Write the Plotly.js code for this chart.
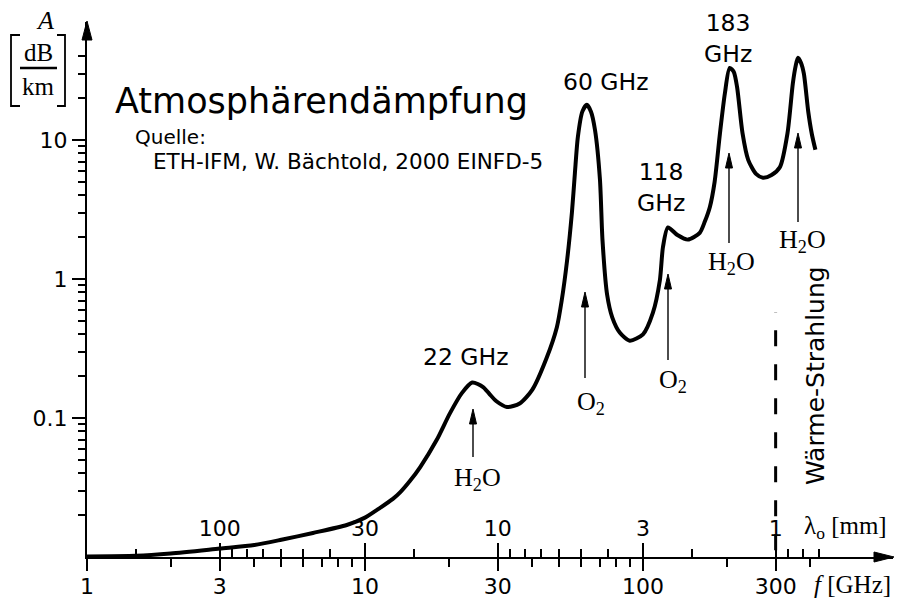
<!DOCTYPE html>
<html>
<head>
<meta charset="utf-8">
<script src="https://cdn.plot.ly/plotly-3.0.1.min.js"></script>
<style>
html,body{margin:0;padding:0;background:#fff;}
#chart{width:901px;height:599px;}
</style>
</head>
<body>
<div id="chart"></div>
<script>
// ---- data ----
const freqGHz = [1, 1.5, 2, 3, 4, 5, 6.5, 8.6, 10, 11.3, 12.6, 13.4, 14.5, 15.8, 18.1, 20.2, 22.3, 24.3, 26.6, 28.1, 29.7, 32.4, 36, 40, 45, 49, 51, 53.3, 55.5, 56.9, 58.3, 60.5, 62.8, 65, 67.2, 70, 71.5, 74.3, 77.5, 82.6, 89.6, 100, 108.5, 115, 118, 123, 133, 145, 160, 167, 174, 181, 189, 197, 205, 212, 218, 228, 239, 255, 270, 290, 311, 331, 346, 354, 361, 370, 379, 393, 405, 417];
const attenDBkm = [0.0101, 0.0102, 0.0106, 0.0115, 0.0122, 0.0133, 0.0149, 0.0170, 0.0192, 0.0225, 0.0262, 0.0293, 0.0352, 0.0444, 0.0694, 0.108, 0.151, 0.180, 0.167, 0.148, 0.132, 0.120, 0.127, 0.16, 0.27, 0.45, 0.70, 1.35, 3.0, 5.8, 10.5, 16, 17.9, 16, 11.8, 5.2, 1.9, 0.77, 0.53, 0.41, 0.36, 0.40, 0.57, 0.98, 1.7, 2.35, 2.07, 1.92, 2.15, 2.6, 3.3, 5.0, 11, 21.6, 33, 31, 24, 11.2, 7.2, 5.7, 5.35, 5.6, 6.4, 11.2, 25.6, 34, 39, 36, 30, 16, 11, 8.5];

const freqMajorTicks  = [1, 3, 10, 30, 100, 300];
const freqMajorLabels = ['1', '3', '10', '30', '100', '300'];
const freqMinorTicks  = [2, 4, 5, 6, 7, 8, 9, 20, 40, 50, 60, 70, 80, 90, 200, 400];

const lambdaMajorMM = [100, 30, 10, 3, 1];
const lambdaMinorMM = [200, 90, 80, 70, 60, 50, 40, 20, 9, 8, 7, 6, 5, 4, 2, 0.9, 0.8, 0.7];

const attMajorTicks  = [0.01, 0.1, 1, 10];
const attMajorLabels = ['0.01', '0.1', '1', '10'];
const attMinorTicks  = [];
[0.01, 0.1, 1].forEach(d => { for (let k = 2; k <= 9; k++) attMinorTicks.push(+(d * k).toPrecision(3)); });
attMinorTicks.push(20, 30, 40);

const heatBoundaryGHz = [300, 300];
const heatBoundaryDB  = [0.0112, 0.58];

const peakLabels = ['22 GHz', '60 GHz', '118<br>GHz', '183<br>GHz'];
const gasLabels  = ['H<sub>2</sub>O', 'O<sub>2</sub>', 'O<sub>2</sub>', 'H<sub>2</sub>O', 'H<sub>2</sub>O'];

// ---- helpers (pixel -> paper for decorations) ----
const L = 87, R = 8, T = 22, B = 42, W = 901, H = 599;
const PW = W - L - R, PH = H - T - B;
const px = x => (x - L) / PW;
const py = y => (H - B - y) / PH;

const lambdaToF = l => 300 / l;

const sans = 'DejaVu Sans, sans-serif';
const serif = 'Liberation Serif, DejaVu Serif, serif';

const traces = [
  {
    x: freqGHz, y: attenDBkm, type: 'scatter', mode: 'lines',
    line: {color: '#000', width: 4, shape: 'spline', smoothing: 0.7},
    hoverinfo: 'x+y', showlegend: false
  },
  {
    x: heatBoundaryGHz, y: heatBoundaryDB, type: 'scatter', mode: 'lines',
    xaxis: 'x2',
    line: {color: '#000', width: 3, dash: '16px,18px'},
    hoverinfo: 'skip', showlegend: false
  }
];

const annotations = [];
function txt(text, x, y, size, opts) {
  annotations.push(Object.assign({
    text: text, xref: 'paper', yref: 'paper', x: px(x), y: py(y),
    showarrow: false, xanchor: 'center', yanchor: 'middle',
    font: {family: sans, size: size, color: '#000'}
  }, opts || {}));
}
// title & source
txt('Atmosphärendämpfung', 113, 101, 35, {xanchor: 'left'});
txt('Quelle:', 133, 137, 20, {xanchor: 'left'});
txt('ETH-IFM, W. Bächtold, 2000 EINFD-5', 151, 161, 21.5, {xanchor: 'left'});
// peak labels
const peakPos = [[466, 357], [606, 82], [661, 188], [728, 38]];
peakLabels.forEach((t, i) => txt(t, peakPos[i][0], peakPos[i][1], 23.5));
// gas labels
const gasPos = [[477, 479], [591, 403], [673, 381], [731, 263], [802, 241]];
gasLabels.forEach((t, i) => txt(t, gasPos[i][0], gasPos[i][1], 26, {font: {family: serif, size: 26, color: '#000'}}));
// heat radiation label
txt('Wärme-Strahlung', 816, 376, 25, {textangle: -90});
// axis names
txt('<i>A</i>', 45, 21, 26, {font: {family: serif, size: 26, color: '#000'}});
txt('dB', 38, 52, 25, {font: {family: serif, size: 25, color: '#000'}});
txt('km', 38, 86, 25, {font: {family: serif, size: 25, color: '#000'}});
txt('λ<sub>o</sub> [mm]', 802, 527, 25, {xanchor: 'left', font: {family: serif, size: 25, color: '#000'}});
txt('<i>f</i> [GHz]', 812, 584, 25, {xanchor: 'left', font: {family: serif, size: 25, color: '#000'}});

// shapes: brackets, fraction bar, arrows
const shapes = [
  {type: 'path', xref: 'paper', yref: 'paper',
   path: `M ${px(20)} ${py(35)} L ${px(11)} ${py(35)} L ${px(11)} ${py(106)} L ${px(20)} ${py(106)}`,
   line: {color: '#000', width: 1.8}},
  {type: 'path', xref: 'paper', yref: 'paper',
   path: `M ${px(57)} ${py(35)} L ${px(65)} ${py(35)} L ${px(65)} ${py(106)} L ${px(57)} ${py(106)}`,
   line: {color: '#000', width: 1.8}},
  {type: 'line', xref: 'paper', yref: 'paper', x0: px(20), x1: px(57), y0: py(68), y1: py(68),
   line: {color: '#000', width: 2.5}}
];
function upArrow(x, tip, bottom, hw, hl, lw) {
  shapes.push({type: 'line', xref: 'paper', yref: 'paper', x0: px(x), x1: px(x), y0: py(bottom), y1: py(tip + hl - 2),
    line: {color: '#000', width: lw}});
  shapes.push({type: 'path', xref: 'paper', yref: 'paper',
    path: `M ${px(x - hw)} ${py(tip + hl)} L ${px(x)} ${py(tip)} L ${px(x + hw)} ${py(tip + hl)} Z`,
    fillcolor: '#000', line: {color: '#000', width: 1}});
}
const arrowPos = [[473, 409, 457], [585, 292, 378], [668, 274, 360], [729, 153, 243], [798, 133, 222]];
arrowPos.forEach(a => upArrow(a[0], a[1], a[2], 3.5, 15, 1.4));
// axis arrowheads
shapes.push({type: 'path', xref: 'paper', yref: 'paper',
  path: `M ${px(82)} ${py(40)} L ${px(87)} ${py(21)} L ${px(92)} ${py(40)} Z`,
  fillcolor: '#000', line: {color: '#000', width: 1}});
shapes.push({type: 'path', xref: 'paper', yref: 'paper',
  path: `M ${px(874)} ${py(552)} L ${px(894)} ${py(557)} L ${px(874)} ${py(562)} Z`,
  fillcolor: '#000', line: {color: '#000', width: 1}});

const xr = [0, (W - R - L) / 278];
const yr = [-2, -2 + PH / 139];

const layout = {
  width: W, height: H,
  margin: {l: L, r: R, t: T, b: B, pad: 0},
  paper_bgcolor: '#fff', plot_bgcolor: '#fff',
  showlegend: false,
  xaxis: {
    type: 'log', range: xr, showgrid: false, zeroline: false,
    showline: true, linecolor: '#000', linewidth: 2,
    ticks: 'outside', ticklen: 12, tickwidth: 2, tickcolor: '#000',
    ticklabelstandoff: -3,
    tickmode: 'array', tickvals: freqMajorTicks, ticktext: freqMajorLabels,
    tickfont: {family: sans, size: 22, color: '#000'},
    minor: {tickmode: 'array', tickvals: freqMinorTicks, ticks: 'outside', ticklen: 8, tickwidth: 2, tickcolor: '#000', showgrid: false}
  },
  xaxis2: {
    type: 'log', range: xr, overlaying: 'x', anchor: 'y', side: 'bottom',
    showgrid: false, zeroline: false, showline: false,
    ticks: 'inside', ticklen: 14, tickwidth: 2, tickcolor: '#000',
    ticklabelposition: 'inside', ticklabelstandoff: 4,
    tickmode: 'array', tickvals: lambdaMajorMM.map(lambdaToF), ticktext: lambdaMajorMM.map(String),
    tickfont: {family: sans, size: 22, color: '#000'},
    minor: {tickmode: 'array', tickvals: lambdaMinorMM.map(lambdaToF), ticks: 'inside', ticklen: 8, tickwidth: 2, tickcolor: '#000', showgrid: false}
  },
  yaxis: {
    type: 'log', range: yr, showgrid: false, zeroline: false,
    showline: true, linecolor: '#000', linewidth: 2,
    ticks: 'outside', ticklen: 13, tickwidth: 2, tickcolor: '#000',
    tickmode: 'array', tickvals: attMajorTicks, ticktext: attMajorLabels,
    tickfont: {family: sans, size: 22, color: '#000'},
    minor: {tickmode: 'array', tickvals: attMinorTicks, ticks: 'outside', ticklen: 7, tickwidth: 2, tickcolor: '#000', showgrid: false}
  },
  annotations: annotations,
  shapes: shapes
};

Plotly.newPlot('chart', traces, layout, {displayModeBar: false, staticPlot: true});
</script>
</body>
</html>
